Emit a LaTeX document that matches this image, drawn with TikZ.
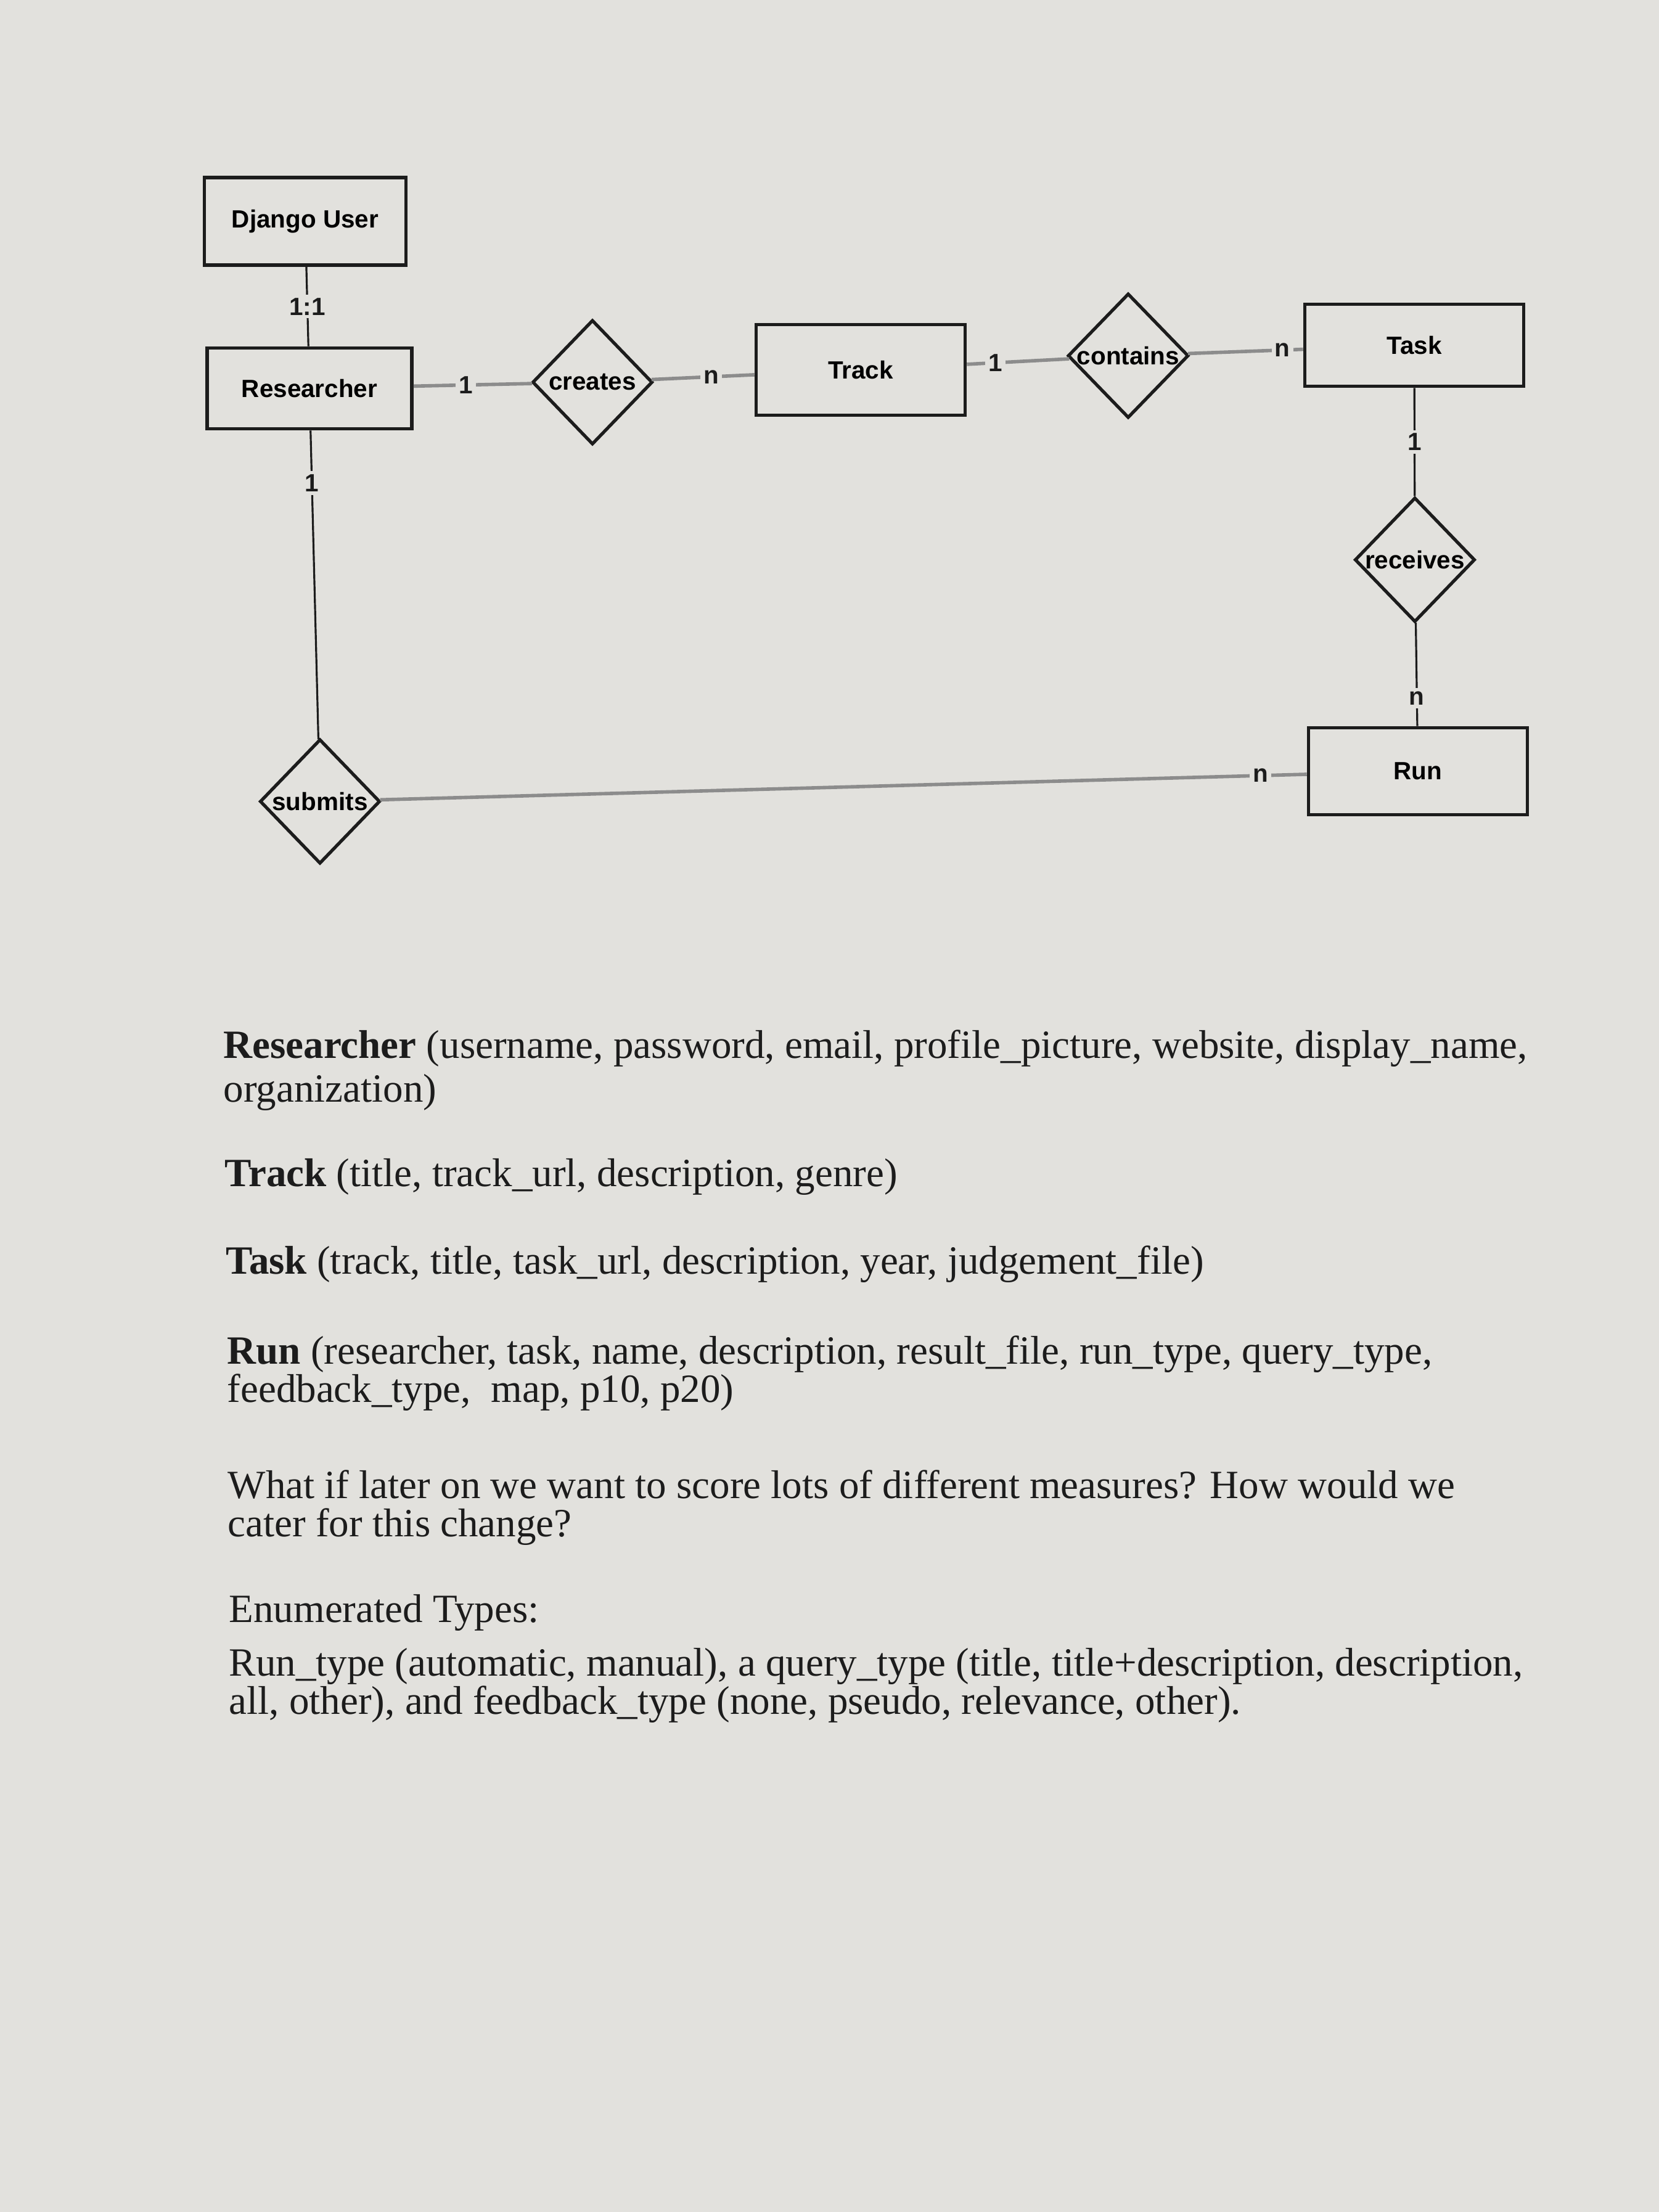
\documentclass[tikz,border=0pt]{standalone}
\usepackage{fontspec}
\setmainfont{Liberation Serif}
\setsansfont{Liberation Sans}
\usetikzlibrary{shapes.geometric}

\definecolor{paper}{RGB}{226,225,221}
\definecolor{ink}{RGB}{28,28,28}

\tikzstyle{entity}=[rectangle,draw=ink,line width=1.6pt,minimum width=3.4cm,minimum height=1.38cm,font=\sffamily\bfseries\fontsize{11.5}{13}\selectfont]
\tikzstyle{relation}=[diamond,draw=ink,line width=1.5pt,inner sep=0pt,minimum width=1.95cm,minimum height=2.02cm,font=\sffamily\bfseries\fontsize{11.5}{13}\selectfont]
\tikzstyle{hlink} = [draw,line width=1.6pt,black!45]
\tikzstyle{vlink} = [draw,line width=0.9pt,ink]
\tikzstyle{card} = [fill=paper,inner sep=1.5pt,text=ink,font=\sffamily\bfseries\fontsize{11.5}{13}\selectfont]
\tikzstyle{textline} = [anchor=base west,inner sep=0pt,text=ink,font=\fontsize{18.5}{22}\selectfont]

\begin{document}
\begin{tikzpicture}
			\fill[paper] (0,0) rectangle (26.91,-35.88);
			\useasboundingbox (0,0) rectangle (26.91,-35.88);
			% entities and relationships
			\node[entity,minimum width=3.27cm,minimum height=1.42cm] (django) at (4.95,-3.59) {Django User};
			\node[entity,minimum width=3.32cm,minimum height=1.31cm] (res) at (5.02,-6.30) {Researcher};
			\node[relation] (creates) at (9.61,-6.20) {creates};
			\node[entity,minimum width=3.39cm,minimum height=1.47cm] (track) at (13.96,-6.00) {Track};
			\node[relation] (contains) at (18.30,-5.77) {contains};
			\node[entity,minimum width=3.55cm,minimum height=1.33cm] (task) at (22.94,-5.60) {Task};
			\node[relation] (receives) at (22.95,-9.08) {receives};
			\node[entity,minimum width=3.55cm,minimum height=1.41cm] (run) at (23.00,-12.51) {Run};
			\node[relation] (submits) at (5.19,-13.00) {submits};
			% horizontal links
			\foreach \source/\dest/\where/\mark in {res/creates/0.44/1, creates/track/0.58/n, track/contains/0.28/1, contains/task/0.82/n, submits/run/0.95/n}
			\path[hlink] (\source) -- node[card,pos=\where] {\mark} (\dest);
			% vertical links
			\foreach \source/\dest/\where/\mark in {django/res/0.5/1:1, task/receives/0.5/1, receives/run/0.73/n, res/submits/0.17/1}
			\path[vlink] (\source) -- node[card,pos=\where] {\mark} (\dest);
			% relational schema
			\node[textline] (l1) at (3.62,-17.16) {\textbf{Researcher} (username, password, email, profile\_picture, website, display\_name,};
			\node[textline] (l2) at (3.62,-17.87) {organization)};
			\node[textline] (l3) at (3.64,-19.24) {\textbf{Track} (title, track\_url, description, genre)};
			\node[textline] (l4) at (3.66,-20.66) {\textbf{Task} (track, title, task\_url, description, year, judgement\_file)};
			\node[textline] (l5) at (3.68,-22.12) {\textbf{Run} (researcher, task, name, description, result\_file, run\_type, query\_type,};
			\node[textline] (l6) at (3.68,-22.74) {feedback\_type,\ \ map, p10, p20)};
			\node[textline] (l7) at (3.69,-24.30) {What if later on we want to score lots of different measures? How would we};
			\node[textline] (l8) at (3.69,-24.92) {cater for this change?};
			\node[textline] (l9) at (3.71,-26.31) {Enumerated Types:};
			\node[textline] (l10) at (3.71,-27.18) {Run\_type (automatic, manual), a query\_type (title, title+description, description,};
			\node[textline] (l11) at (3.71,-27.80) {all, other), and feedback\_type (none, pseudo, relevance, other).};
\end{tikzpicture}
\end{document}
